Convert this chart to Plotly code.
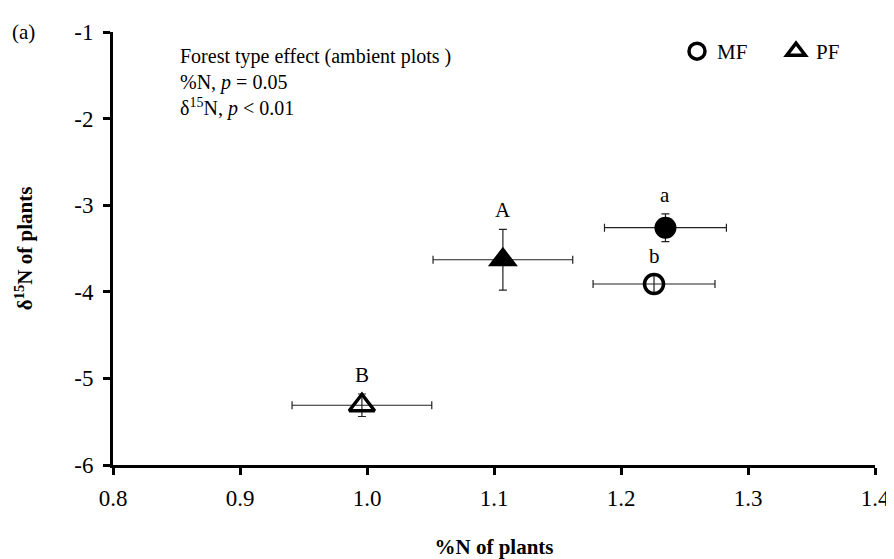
import plotly.graph_objects as go

# Data
groups = ["MF ambient", "MF N-added", "PF ambient", "PF N-added"]
pct_n = [1.226, 1.235, 0.996, 1.107]
pct_n_se = [0.048, 0.048, 0.055, 0.055]
d15n = [-3.91, -3.26, -5.31, -3.63]
d15n_se = [0.10, 0.16, 0.13, 0.35]
letters = ["b", "a", "B", "A"]

x_ticks = [0.8, 0.9, 1.0, 1.1, 1.2, 1.3, 1.4]
y_ticks = [-1, -2, -3, -4, -5, -6]
y_tick_text = ["-1", "-2", "-3", "-4", "-5", "-6"]

FONT = "Liberation Serif"

styles = [
    dict(name="MF", symbol="circle-open", size=19, lw=3.5, show=True),
    dict(name="MF+N", symbol="circle", size=22, lw=0, show=False),
    dict(name="PF", symbol="triangle-up-open", size=22, lw=3.5, show=True),
    dict(name="PF+N", symbol="triangle-up", size=26, lw=0, show=False),
]

fig = go.Figure()
for i, st in enumerate(styles):
    fig.add_trace(go.Scatter(
        x=[pct_n[i]], y=[d15n[i]], mode="markers", name=st["name"],
        showlegend=st["show"],
        marker=dict(symbol=st["symbol"], size=st["size"], color="black",
                    line=dict(width=st["lw"], color="black")),
        error_x=dict(type="data", array=[pct_n_se[i]], color="#222222",
                     thickness=1.2, width=4),
        error_y=dict(type="data", array=[d15n_se[i]], color="#222222",
                     thickness=1.2, width=4),
    ))

for i, lab in enumerate(letters):
    fig.add_annotation(x=pct_n[i], y=d15n[i] + d15n_se[i], text=lab,
                       showarrow=False, yanchor="bottom", yshift=5,
                       font=dict(family=FONT, size=21, color="black"))

fig.add_annotation(xref="paper", yref="paper", x=0.085, y=0.975,
                   xanchor="left", yanchor="top", align="left",
                   text="Forest type effect (ambient plots )<br>%N, <i>p</i> = 0.05<br>δ<sup>15</sup>N, <i>p</i> < 0.01",
                   showarrow=False,
                   font=dict(family=FONT, size=20, color="black"))
fig.add_annotation(xref="paper", yref="paper", x=-0.135, y=1.0,
                   xanchor="left", yanchor="middle", text="(a)",
                   showarrow=False, font=dict(family=FONT, size=21, color="black"))

fig.update_layout(
    width=894, height=559,
    margin=dict(l=105, r=17, t=20, b=95),
    plot_bgcolor="white", paper_bgcolor="white",
    font=dict(family=FONT, size=21, color="black"),
    showlegend=True,
    legend=dict(orientation="h", x=1.0, y=0.955, xanchor="right", yanchor="middle",
                font=dict(family=FONT, size=21), itemwidth=30,
                entrywidth=54, entrywidthmode="pixels",
                bgcolor="rgba(0,0,0,0)"),
    xaxis=dict(range=[0.8, 1.4], tickvals=x_ticks, tickformat=".1f",
               showgrid=False, zeroline=False, showline=True, linewidth=3,
               linecolor="black", ticks="outside", ticklen=7, tickwidth=2.5,
               tickcolor="black", tickfont=dict(family=FONT, size=23),
               ticklabelstandoff=3,
               title=dict(text="<b>%N of plants</b>", font=dict(family=FONT, size=21),
                          standoff=30)),
    yaxis=dict(range=[-6, -1], tickvals=y_ticks, ticktext=y_tick_text,
               showgrid=False, zeroline=False, showline=True, linewidth=3,
               linecolor="black", ticks="outside", ticklen=7, tickwidth=2.5,
               tickcolor="black", tickfont=dict(family=FONT, size=23),
               ticklabelstandoff=5,
               title=dict(text="<b>δ<sup>15</sup>N of plants</b>",
                          font=dict(family=FONT, size=21), standoff=36)),
)

fig.write_html("out.html")
